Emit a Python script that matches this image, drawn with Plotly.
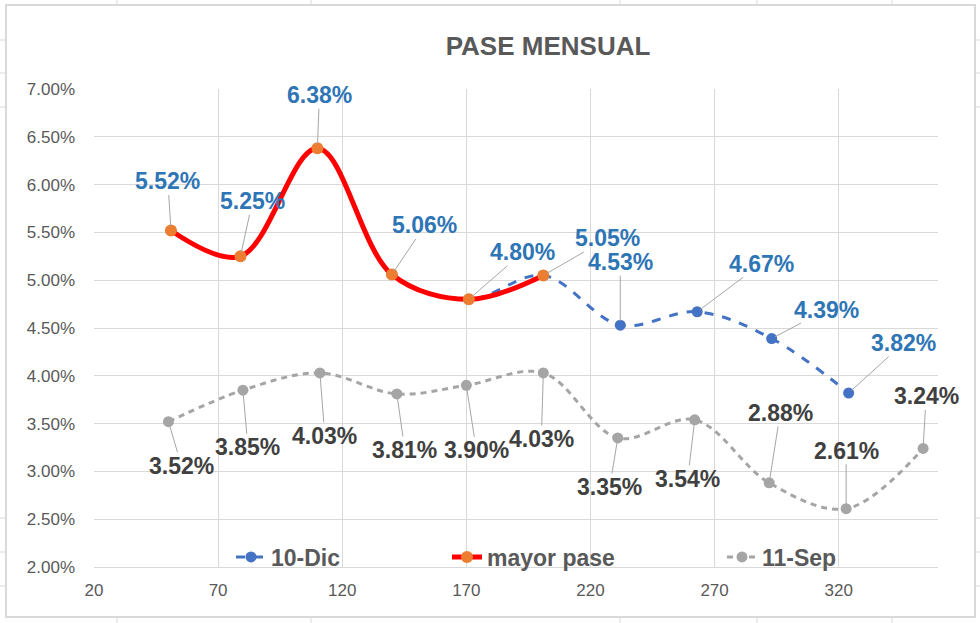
import plotly.graph_objects as go

# ---------------- data ----------------
dic_x = [51, 79, 110, 140, 171, 201, 232, 263, 293, 324]
dic_y = [0.0552, 0.0525, 0.0638, 0.0506, 0.0480, 0.0505, 0.0453, 0.0467, 0.0439, 0.0382]
mayor_x = [51, 79, 110, 140, 171, 201]
mayor_y = [0.0552, 0.0525, 0.0638, 0.0506, 0.0480, 0.0505]
sep_x = [50, 80, 111, 142, 170, 201, 231, 262, 292, 323, 354]
sep_y = [0.0352, 0.0385, 0.0403, 0.0381, 0.0390, 0.0403, 0.0335, 0.0354, 0.0288, 0.0261, 0.0324]

dic_labels = ["5.52%", "5.25%", "6.38%", "5.06%", "4.80%", "5.05%", "4.53%", "4.67%", "4.39%", "3.82%"]
sep_labels = ["3.52%", "3.85%", "4.03%", "3.81%", "3.90%", "4.03%", "3.35%", "3.54%", "2.88%", "2.61%", "3.24%"]

# label offsets (pixels) for leader lines
dic_off = [(-3, -49), (12, -55), (2, -53), (33, -49), (54, -47), (64, -37),
           (0, -63), (64, -48), (55, -29), (55, -50)]
sep_off = [(13, 44), (5, 57), (5, 63), (8, 56), (10, 65), (-2, 66),
           (-8, 49), (-7, 59), (11, -70), (0, -58), (3, -52)]

BLUE = "#4472C4"
LBLUE = "#2E75B6"
ORANGE = "#ED7D31"
RED = "#FF0000"
GRAY = "#A5A5A5"
DGRAY = "#404040"
TXT = "#595959"
GRID = "#D9D9D9"

W, H = 980, 623
L, R, T, B = 94, 42, 89, 56
PW, PH = W - L - R, H - T - B


def px(x):
    return (x - L) / PW


def py(y):
    return (H - B - y) / PH


fig = go.Figure()

fig.add_trace(go.Scatter(
    x=dic_x, y=dic_y, name="10-Dic", mode="lines+markers",
    line=dict(color=BLUE, width=3, dash="dash", shape="spline", smoothing=1),
    marker=dict(color=BLUE, size=11), legend="legend", showlegend=True))
fig.add_trace(go.Scatter(
    x=mayor_x, y=mayor_y, name="mayor pase", mode="lines+markers",
    line=dict(color=RED, width=5, shape="spline", smoothing=1),
    marker=dict(color=ORANGE, size=12), legend="legend2", showlegend=True))
fig.add_trace(go.Scatter(
    x=sep_x, y=sep_y, name="11-Sep", mode="lines+markers",
    line=dict(color=GRAY, width=3, dash="6px,5px", shape="spline", smoothing=1),
    marker=dict(color=GRAY, size=11), legend="legend3", showlegend=True))

LBL_SIZE = 23
annotations = []
for x, y, t, (dx, dy) in zip(dic_x, dic_y, dic_labels, dic_off):
    annotations.append(dict(x=x, y=y, text=t, showarrow=True, ax=dx, ay=dy,
                            arrowhead=0, arrowwidth=1, arrowcolor="#A6A6A6",
                            standoff=4, borderpad=0,
                            font=dict(family="Liberation Sans", size=LBL_SIZE, color=LBLUE, weight="bold")))
for x, y, t, (dx, dy) in zip(sep_x, sep_y, sep_labels, sep_off):
    annotations.append(dict(x=x, y=y, text=t, showarrow=True, ax=dx, ay=dy,
                            arrowhead=0, arrowwidth=1, arrowcolor="#A6A6A6",
                            standoff=4, borderpad=0,
                            font=dict(family="Liberation Sans", size=LBL_SIZE, color=DGRAY, weight="bold")))

# chart border and spreadsheet cell lines
shapes = [dict(type="rect", xref="paper", yref="paper",
               x0=px(6), x1=px(975), y0=py(617), y1=py(5),
               line=dict(color=GRID, width=2), layer="below")]
for xx in [117, 311, 620, 757, 892]:
    shapes.append(dict(type="line", xref="paper", yref="paper", x0=px(xx), x1=px(xx),
                       y0=py(0), y1=py(5), line=dict(color=GRID, width=1)))
    shapes.append(dict(type="line", xref="paper", yref="paper", x0=px(xx), x1=px(xx),
                       y0=py(617), y1=py(623), line=dict(color=GRID, width=1)))
for yy in [40, 73, 107, 518, 552, 586]:
    shapes.append(dict(type="line", xref="paper", yref="paper", x0=px(0), x1=px(6),
                       y0=py(yy), y1=py(yy), line=dict(color=GRID, width=1)))
    shapes.append(dict(type="line", xref="paper", yref="paper", x0=px(975), x1=px(980),
                       y0=py(yy), y1=py(yy), line=dict(color=GRID, width=1)))

leg_font = dict(family="Liberation Sans", size=23, color=TXT, weight="bold")
ly = py(557)

fig.update_layout(
    width=W, height=H, autosize=False, showlegend=True,
    margin=dict(l=L, r=R, t=T, b=B),
    paper_bgcolor="white", plot_bgcolor="white",
    title=dict(text="PASE MENSUAL", x=548 / W, xref="container", xanchor="center",
               y=1 - 46 / H, yref="container", yanchor="middle",
               font=dict(family="Liberation Sans", size=26, color=TXT, weight="bold")),
    xaxis=dict(range=[20, 360], tick0=20, dtick=50, showgrid=True, gridcolor=GRID, gridwidth=1,
               zeroline=False, showline=True, linecolor=GRID, linewidth=1,
               ticks="", ticklabelstandoff=8,
               tickfont=dict(family="Liberation Sans", size=17, color=TXT)),
    yaxis=dict(range=[0.02, 0.07], tick0=0.02, dtick=0.005, tickformat=".2%",
               showgrid=True, gridcolor=GRID, gridwidth=1, zeroline=False,
               showline=False, ticks="", ticklabelstandoff=18,
               tickfont=dict(family="Liberation Sans", size=17, color=TXT)),
    legend=dict(x=px(275 - 44), y=ly, xanchor="left", yanchor="middle", bgcolor="rgba(0,0,0,0)",
                font=leg_font, orientation="h", visible=True),
    legend2=dict(x=px(491 - 44), y=ly, xanchor="left", yanchor="middle", bgcolor="rgba(0,0,0,0)",
                 font=leg_font, orientation="h", visible=True),
    legend3=dict(x=px(766 - 44), y=ly, xanchor="left", yanchor="middle", bgcolor="rgba(0,0,0,0)",
                 font=leg_font, orientation="h", visible=True),
    annotations=annotations,
    shapes=shapes,
)

fig.write_html("out.html", config={"displayModeBar": False},
               post_script="document.body.style.margin='0';document.body.style.padding='0';")
